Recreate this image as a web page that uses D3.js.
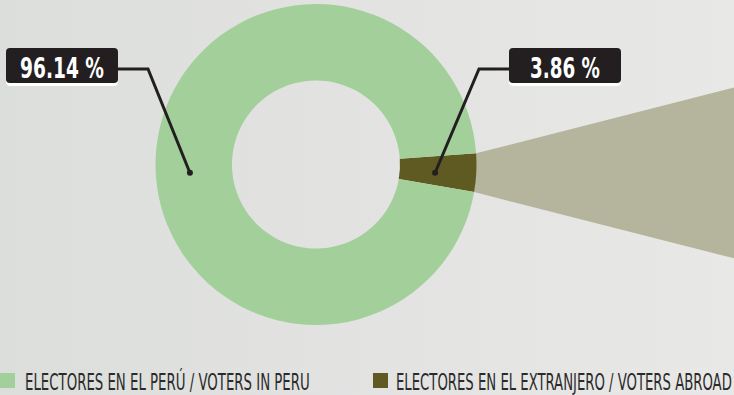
<!DOCTYPE html>
<html><head><meta charset="utf-8">
<script src="https://cdn.jsdelivr.net/npm/d3@7"></script>
<style>html,body{margin:0;padding:0;overflow:hidden;background:#e2e3e2}</style>
</head><body>
<script>
const categories = ["ELECTORES EN EL EXTRANJERO / VOTERS ABROAD", "ELECTORES EN EL PERÚ /  VOTERS IN PERU"];
const keys = ["abroad", "peru"];
const values = [3.86, 96.14];
const valueLabels = ["3.86 %", "96.14 %"];
const colors = ["#5e5a22", "#a3cf9b"];

const W = 734, H = 395;
const cx = 316, cy = 164.5, rOuter = 160.5, rInner = 84;
const FONT = "'Liberation Sans Narrow','DejaVu Sans Condensed','Roboto',sans-serif";
const svg = d3.select("body").append("svg").attr("width", W).attr("height", H);

const defs = svg.append("defs");
const grad = defs.append("linearGradient").attr("id", "bg").attr("x1", "0").attr("x2", "1").attr("y1", "0").attr("y2", "0");
grad.append("stop").attr("offset", "0").attr("stop-color", "#dcdedc");
grad.append("stop").attr("offset", "1").attr("stop-color", "#e8e8e7");
svg.append("rect").attr("width", W).attr("height", H).attr("fill", "url(#bg)");

const data = keys.map((k, i) => ({key: k, label: categories[i], value: values[i], text: valueLabels[i], color: colors[i]}));

const start = 86 * Math.PI / 180;
const pie = d3.pie().value(d => d.value).sort(null).startAngle(start).endAngle(start + 2 * Math.PI);
const arcs = pie(data);
const arc = d3.arc().innerRadius(rInner).outerRadius(rOuter);

const g = svg.append("g").attr("transform", `translate(${cx},${cy})`);

// projection funnel for the abroad slice
const ab = arcs[0];
const pt = (a, r) => [r * Math.sin(a), -r * Math.cos(a)];
const pTop = pt(ab.startAngle, rOuter), pBot = pt(ab.endAngle, rOuter);
const xEnd = W - cx;
const spread = 0.255;
const funnel = [pTop, [xEnd, pTop[1] - spread * (xEnd - pTop[0])], [xEnd, pBot[1] + spread * (xEnd - pBot[0])], pBot];
g.append("path").attr("d", d3.line()(funnel) + "Z").attr("fill", "#b5b49d");

g.selectAll("path.slice").data(arcs).join("path").attr("class", "slice")
  .attr("d", arc).attr("fill", d => d.data.color);

// fit a text horizontally to a target width by scaling X
function fitText(sel, x, y, width, anchor) {
  const w = sel.node().getComputedTextLength();
  const s = width / w;
  const x0 = anchor === "middle" ? x - width / 2 : x;
  sel.attr("x", 0).attr("y", 0).attr("text-anchor", "start")
    .attr("transform", `translate(${x0},${y}) scale(${s},1)`);
}

// labels
const boxW = 112, boxH = 35, boxY = 48 - cy;
const anchors = arcs.map((d, i) => {
  const c = arc.centroid(d);
  if (d.data.key === "peru") {
    const ca = arc.centroid(arcs[0]);
    return [-ca[0] - 4, ca[1] + 2];
  }
  return [c[0] - 3, c[1] + 2];
});
const boxX = { abroad: 509 - cx, peru: 6 - cx };

arcs.forEach((d, i) => {
  const k = d.data.key;
  const bx = boxX[k];
  const lineY = boxY + 21;
  const a = anchors[i];
  let pts;
  if (k === "peru") pts = [[bx + boxW, lineY], [bx + boxW + 30, lineY], a];
  else pts = [[bx, lineY], [bx - 30, lineY], a];
  g.append("path").attr("d", d3.line()(pts)).attr("fill", "none")
    .attr("stroke", "#231f20").attr("stroke-width", 3).attr("stroke-linejoin", "miter");
  g.append("circle").attr("cx", a[0]).attr("cy", a[1]).attr("r", 3).attr("fill", "#231f20");
  g.append("rect").attr("x", bx).attr("y", boxY + 3).attr("width", boxW).attr("height", boxH)
    .attr("rx", 4).attr("fill", "#ffffff");
  g.append("rect").attr("x", bx).attr("y", boxY).attr("width", boxW).attr("height", boxH)
    .attr("rx", 4).attr("fill", "#231f20");
  const t = g.append("text").attr("fill", "#ffffff")
    .attr("font-family", FONT)
    .attr("font-weight", "bold").attr("font-size", 29)
    .text(d.data.text);
  fitText(t, bx + boxW / 2, boxY + 29.5, k === "peru" ? 84 : 70, "middle");
});

// legend
const legendOrder = [data[1], data[0]];
const legX = [0, 373];
const legLen = [285, 336];
const leg = svg.append("g");
legendOrder.forEach((d, i) => {
  leg.append("rect").attr("x", legX[i]).attr("y", 373).attr("width", 15).attr("height", 15).attr("fill", d.color);
  const t = leg.append("text")
    .attr("fill", "#2a2a2a")
    .attr("font-family", FONT)
    .attr("font-size", 23.5)
    .text(d.label);
  fitText(t, legX[i] + (i === 0 ? 25 : 23), 389.5, legLen[i], "start");
});
</script>
</body></html>
